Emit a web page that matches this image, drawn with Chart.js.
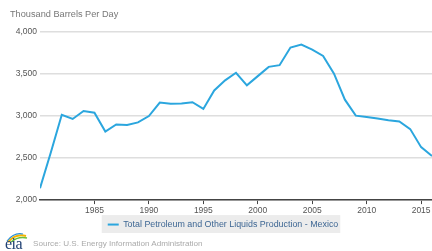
<!DOCTYPE html>
<html>
<head>
<meta charset="utf-8">
<script src="https://cdn.jsdelivr.net/npm/chart.js@4/dist/chart.umd.min.js"></script>
<style>
  html, body { margin: 0; padding: 0; background: #fff; }
  #wrap { position: relative; width: 432px; height: 251px; overflow: hidden; font-family: "Liberation Sans", Arial, sans-serif; }
  #title { position: absolute; left: 10px; top: 9px; font-size: 9.2px; color: #777; }
  #source { position: absolute; left: 33px; top: 239px; font-size: 8.1px; color: #aaa; }
  #logo { position: absolute; left: 4px; top: 233px; width: 24px; height: 18px; }
  #logo span { position: absolute; left: 1px; top: 2px; font-family: "Liberation Serif", serif; font-size: 16px; color: #1f3f72; letter-spacing: -0.5px; }
</style>
</head>
<body>
<div id="wrap">
  <canvas id="c" width="432" height="251"></canvas>
  <div id="title">Thousand Barrels Per Day</div>
  <div id="logo">
    <svg width="24" height="10" style="position:absolute;left:2px;top:0"><path d="M2 9 Q10 0 20 3" stroke="#f4b400" stroke-width="2" fill="none"/><path d="M5 9 Q12 3 21 5" stroke="#6cbf3c" stroke-width="1.6" fill="none"/><path d="M1 8 Q8 -1 17 1" stroke="#2a8fd6" stroke-width="1.2" fill="none"/></svg>
    <span>eia</span>
  </div>
  <div id="source">Source: U.S. Energy Information Administration</div>
</div>
<script>
const years = [1980,1981,1982,1983,1984,1985,1986,1987,1988,1989,1990,1991,1992,1993,1994,1995,1996,1997,1998,1999,2000,2001,2002,2003,2004,2005,2006,2007,2008,2009,2010,2011,2012,2013,2014,2015,2016];
const production = [2140,2570,3015,2965,3060,3040,2815,2900,2895,2925,3000,3160,3145,3150,3165,3085,3305,3425,3515,3365,3475,3585,3605,3815,3850,3790,3715,3505,3195,3005,2990,2970,2950,2935,2845,2630,2525];
const xTicks = [1985,1990,1995,2000,2005,2010,2015];
const yTicks = [2000,2500,3000,3500,4000];
const seriesName = 'Total Petroleum and Other Liquids Production - Mexico';

const legendBg = {
  id: 'legendBg',
  beforeDraw(chart) {
    const boxes = chart.legend && chart.legend.legendHitBoxes;
    if (!boxes || !boxes.length) return;
    const b = boxes[0];
    const ctx = chart.ctx;
    ctx.save();
    ctx.fillStyle = '#ececec';
    ctx.fillRect(b.left - 6, b.top - 5, b.width + 8, b.height + 9);
    ctx.restore();
  }
};

new Chart(document.getElementById('c'), {
  type: 'line',
  data: {
    datasets: [{
      label: seriesName,
      data: years.map((y, i) => ({ x: y, y: production[i] })),
      borderColor: '#2ba6de',
      backgroundColor: '#2ba6de',
      borderWidth: 2,
      pointRadius: 0,
      tension: 0,
      fill: false
    }]
  },
  options: {
    responsive: false,
    animation: false,
    devicePixelRatio: 1,
    layout: { padding: { top: 32, right: 0, bottom: 12, left: 14 } },
    scales: {
      x: {
        type: 'linear',
        min: 1980,
        max: 2016,
        afterBuildTicks(scale) { scale.ticks = xTicks.map(v => ({ value: v })); },
        ticks: {
          color: '#555',
          font: { family: '"Liberation Sans", Arial, sans-serif', size: 8.5 },
          maxRotation: 0,
          padding: 1,
          callback: v => String(v)
        },
        grid: { drawOnChartArea: false, drawTicks: true, tickLength: 4, color: '#444' },
        border: { display: true, color: '#444', width: 1.5 },
        afterFit(scale) { scale.height = 16; }
      },
      y: {
        min: 2000,
        max: 4000,
        afterBuildTicks(scale) { scale.ticks = yTicks.map(v => ({ value: v })); },
        ticks: {
          color: '#555',
          font: { family: '"Liberation Sans", Arial, sans-serif', size: 8.5 },
          padding: 3,
          callback: v => v.toLocaleString('en-US')
        },
        grid: { drawTicks: false, color: '#dedede', lineWidth: 1.5 },
        border: { display: false },
        afterFit(scale) { scale.width = 26; }
      }
    },
    plugins: {
      title: { display: false },
      tooltip: { enabled: false },
      legend: {
        display: true,
        position: 'bottom',
        labels: {
          usePointStyle: true,
          pointStyle: 'line',
          pointStyleWidth: 11,
          color: '#3e6794',
          padding: 4,
          font: { family: '"Liberation Sans", Arial, sans-serif', size: 8.9 }
        }
      }
    }
  },
  plugins: [legendBg]
});
</script>
</body>
</html>
